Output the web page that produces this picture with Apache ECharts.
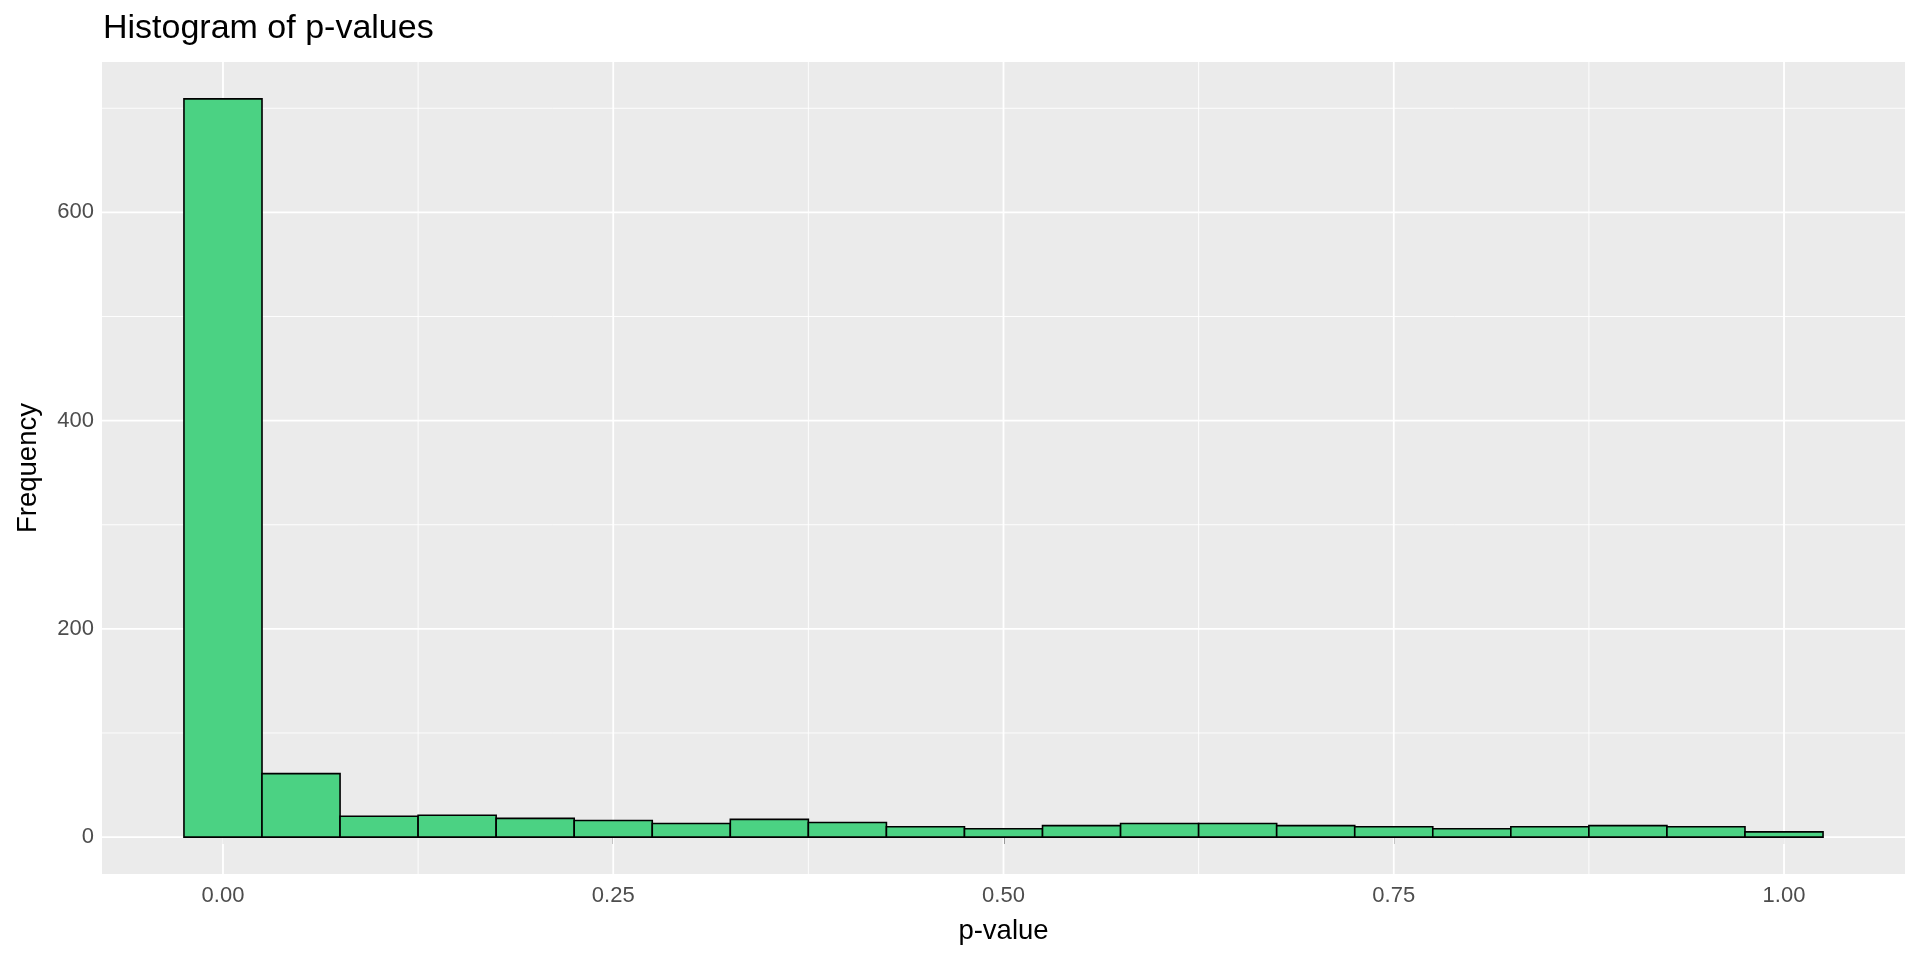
<!DOCTYPE html>
<html>
<head>
<meta charset="utf-8">
<script src="https://cdn.jsdelivr.net/npm/echarts@6/dist/echarts.min.js"></script>
<style>
html,body{margin:0;padding:0;background:#ffffff;}
#c{width:1920px;height:960px;}
</style>
</head>
<body>
<div id="c"></div>
<script>
// ---- data ----
const binCenters = [0.00, 0.05, 0.10, 0.15, 0.20, 0.25, 0.30, 0.35, 0.40, 0.45, 0.50,
                    0.55, 0.60, 0.65, 0.70, 0.75, 0.80, 0.85, 0.90, 0.95, 1.00];
const counts = [709, 61, 20, 21, 18, 16, 13, 17, 14, 10, 8,
                11, 13, 13, 11, 10, 8, 10, 11, 10, 5];
const binWidth = 0.05;
const xMajorTicks = [0, 0.25, 0.5, 0.75, 1];
const xMinorTicks = [0.125, 0.375, 0.625, 0.875];
const yMajorTicks = [0, 200, 400, 600];
const yMinorTicks = [100, 300, 500, 700];
const titleText = 'Histogram of p-values';
const xTitle = 'p-value';
const yTitle = 'Frequency';

// ggplot-style 5% expansion of the data range
const xLo = binCenters[0] - binWidth / 2;
const xHi = binCenters[binCenters.length - 1] + binWidth / 2;
const xPad = (xHi - xLo) * 0.05;
const yLo = 0, yHi = Math.max.apply(null, counts);
const yPad = (yHi - yLo) * 0.05;

const FONT = 'Liberation Sans, Arial, sans-serif';
const MAJOR_W = 1.8, MINOR_W = 0.9;

// grid line records: [orientation(0 = vertical, 1 = horizontal), value, isMajor]
const gridData = []
  .concat(xMinorTicks.map(v => [0, v, 0]))
  .concat(yMinorTicks.map(v => [1, v, 0]))
  .concat(xMajorTicks.map(v => [0, v, 1]))
  .concat(yMajorTicks.map(v => [1, v, 1]));

const chart = echarts.init(document.getElementById('c'), null, { renderer: 'canvas' });
chart.setOption({
  animation: false,
  backgroundColor: '#ffffff',
  textStyle: { fontFamily: FONT },
  title: {
    text: titleText,
    left: 103,
    top: 12,
    padding: 0,
    textStyle: { fontFamily: FONT, fontSize: 34, fontWeight: 'normal', color: '#000000' }
  },
  grid: {
    left: 102, right: 15, top: 62, bottom: 86,
    show: true, backgroundColor: '#EBEBEB', borderWidth: 0,
    containLabel: false
  },
  xAxis: {
    type: 'value',
    min: xLo - xPad,
    max: xHi + xPad,
    name: xTitle,
    nameLocation: 'middle',
    nameGap: 43,
    nameTextStyle: { fontFamily: FONT, fontSize: 27.5, color: '#000000' },
    axisLine: { show: false },
    splitLine: { show: false },
    axisTick: {
      show: true, customValues: xMajorTicks, length: 7,
      lineStyle: { color: '#333333', width: 1.6 }
    },
    axisLabel: {
      customValues: xMajorTicks, margin: 11,
      fontFamily: FONT, fontSize: 22, color: '#4D4D4D',
      formatter: v => Number(v).toFixed(2)
    }
  },
  yAxis: {
    type: 'value',
    min: yLo - yPad,
    max: yHi + yPad,
    name: yTitle,
    nameLocation: 'middle',
    nameRotate: 90,
    nameGap: 60,
    nameTextStyle: { fontFamily: FONT, fontSize: 27.5, color: '#000000' },
    axisLine: { show: false },
    splitLine: { show: false },
    axisTick: {
      show: true, customValues: yMajorTicks, length: 7,
      lineStyle: { color: '#333333', width: 1.6 }
    },
    axisLabel: {
      customValues: yMajorTicks, margin: 8,
      fontFamily: FONT, fontSize: 22, color: '#4D4D4D',
      formatter: v => String(Math.round(v))
    }
  },
  series: [
    {
      type: 'custom',
      z: 1,
      silent: true,
      data: gridData,
      encode: { x: -1, y: -1 },
      renderItem: function (params, api) {
        const cs = params.coordSys;
        const orient = api.value(0), v = api.value(1), major = api.value(2);
        let shape;
        if (orient === 0) {
          const px = api.coord([v, 0])[0];
          shape = { x1: px, y1: cs.y, x2: px, y2: cs.y + cs.height };
        } else {
          const py = api.coord([0, v])[1];
          shape = { x1: cs.x, y1: py, x2: cs.x + cs.width, y2: py };
        }
        return {
          type: 'line',
          shape: shape,
          style: { stroke: '#ffffff', lineWidth: major ? MAJOR_W : MINOR_W }
        };
      }
    },
    {
      type: 'custom',
      z: 5,
      silent: true,
      encode: { x: 0, y: 1 },
      data: binCenters.map((c, i) => [c, counts[i]]),
      renderItem: function (params, api) {
        const c = api.value(0), n = api.value(1);
        const p0 = api.coord([c - binWidth / 2, n]);
        const p1 = api.coord([c + binWidth / 2, 0]);
        return {
          type: 'rect',
          shape: { x: p0[0], y: p0[1], width: p1[0] - p0[0], height: p1[1] - p0[1] },
          style: { fill: '#4BD283', stroke: '#000000', lineWidth: 1.6 }
        };
      }
    }
  ]
});
</script>
</body>
</html>
